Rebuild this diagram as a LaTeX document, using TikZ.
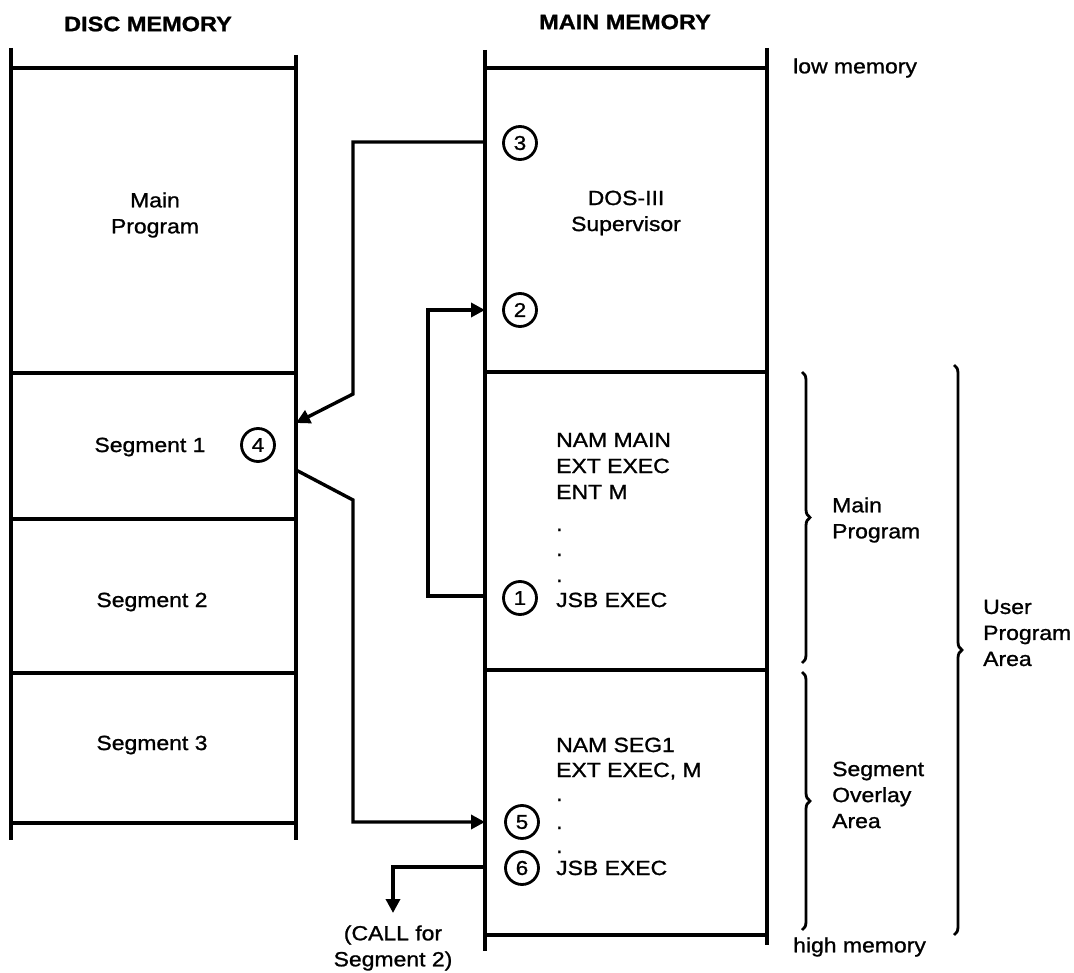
\documentclass[tikz,border=0pt]{standalone}
\usepackage{fontspec}
\setmainfont{Liberation Sans}[FakeStretch=1.12,FakeBold=1.1]
\usetikzlibrary{arrows.meta,decorations.pathreplacing}
\begin{document}
\begin{tikzpicture}[x=1pt,y=-1pt,
  wall/.style={line width=3.4pt},
  conn/.style={line width=3.4pt},
  arr/.style={conn,-{Triangle[length=14pt,width=14pt]}},
  num/.style={circle,draw,line width=2.8pt,minimum size=33pt,inner sep=0pt,font=\fontsize{20}{20}\selectfont},
  lbl/.style={font=\fontsize{20.5}{26}\selectfont, align=center, inner sep=0pt},
  lbll/.style={font=\fontsize{20.5}{26}\selectfont, align=left, anchor=west, inner sep=0pt},
  code/.style={font=\fontsize{20.5}{26}\selectfont, anchor=base west, inner sep=0pt},
  ttl/.style={font=\fontsize{21}{21}\selectfont\bfseries, inner sep=0pt},
  brc/.style={line width=2.8pt, decorate, decoration={brace,amplitude=8pt}}
]
\path[use as bounding box] (0,0) rectangle (1074,973);

% titles
\node[ttl] (tdisc) at (148,24) {DISC MEMORY};
\node[ttl] (tmain) at (625,22) {MAIN MEMORY};

% disc memory column
\draw[wall] (11,48) -- (11,840);
\draw[wall] (296,55) -- (296,840);
\foreach \yy in {68,373,519,673,823} \draw[wall] (11,\yy) -- (296,\yy);

% main memory column
\draw[wall] (485,50) -- (485,951);
\draw[wall] (767,48) -- (767,945);
\foreach \yy in {68,372,670,935} \draw[wall] (485,\yy) -- (767,\yy);

% disc labels
\node[lbl] (dmain) at (155,215) {Main\\Program};
\node[lbl] (dseg1) at (150,447) {Segment 1};
\node[lbl] (dseg2) at (152,602) {Segment 2};
\node[lbl] (dseg3) at (152,745) {Segment 3};

% main memory labels
\node[lbl] (dos) at (626,213) {DOS-III\\Supervisor};
\node[code] (a1) at (556,447) {NAM MAIN};
\node[code] (a2) at (556,473) {EXT EXEC};
\node[code] (a3) at (556,499) {ENT M};
\node[code] (a4) at (556,531) {.};
\node[code] (a5) at (556,556) {.};
\node[code] (a6) at (556,582) {.};
\node[code] (a7) at (556,607) {JSB EXEC};
\node[code] (b1) at (556,752) {NAM SEG1};
\node[code] (b2) at (556,777) {EXT EXEC, M};
\node[code] (b3) at (556,801) {.};
\node[code] (b4) at (556,829) {.};
\node[code] (b5) at (556,853) {.};
\node[code] (b6) at (556,875) {JSB EXEC};

\node[lbll] (low) at (793,68) {low memory};
\node[lbll] (high) at (793,947) {high memory};

% circled numbers
\node[num] (c3) at (520,143) {3};
\node[num] (c2) at (520,310) {2};
\node[num] (c1) at (520,598) {1};
\node[num] (c4) at (258,445) {4};
\node[num] (c5) at (522,822) {5};
\node[num] (c6) at (522,868) {6};

% connector end points
\coordinate (m3) at (485,142);
\coordinate (d4in) at (296,423);
\coordinate (d4out) at (296,470);
\coordinate (m5) at (485,822);
\coordinate (m1) at (485,596);
\coordinate (m2) at (485,310);
\coordinate (m6) at (485,867);
\coordinate (callend) at (393,913);

\draw[arr] (m3) -| (353,394) -- (d4in);
\draw[arr] (d4out) -- (353,500) |- (m5);
\draw[arr] (m1) -| (428,310) -- (m2);
\draw[arr] (m6) -| (callend);

\node[lbl] (call) at (393,948) {(CALL for\\Segment 2)};

% braces
\draw[brc] (802,372) -- (802,663);
\draw[brc] (802,672) -- (802,930);
\draw[brc] (954,365) -- (954,935);
\node[lbll] (lmain) at (832,520) {Main\\Program};
\node[lbll] (lseg) at (832,795) {Segment\\Overlay\\Area};
\node[lbll] (luser) at (983,633) {User\\Program\\Area};
\end{tikzpicture}
\end{document}
